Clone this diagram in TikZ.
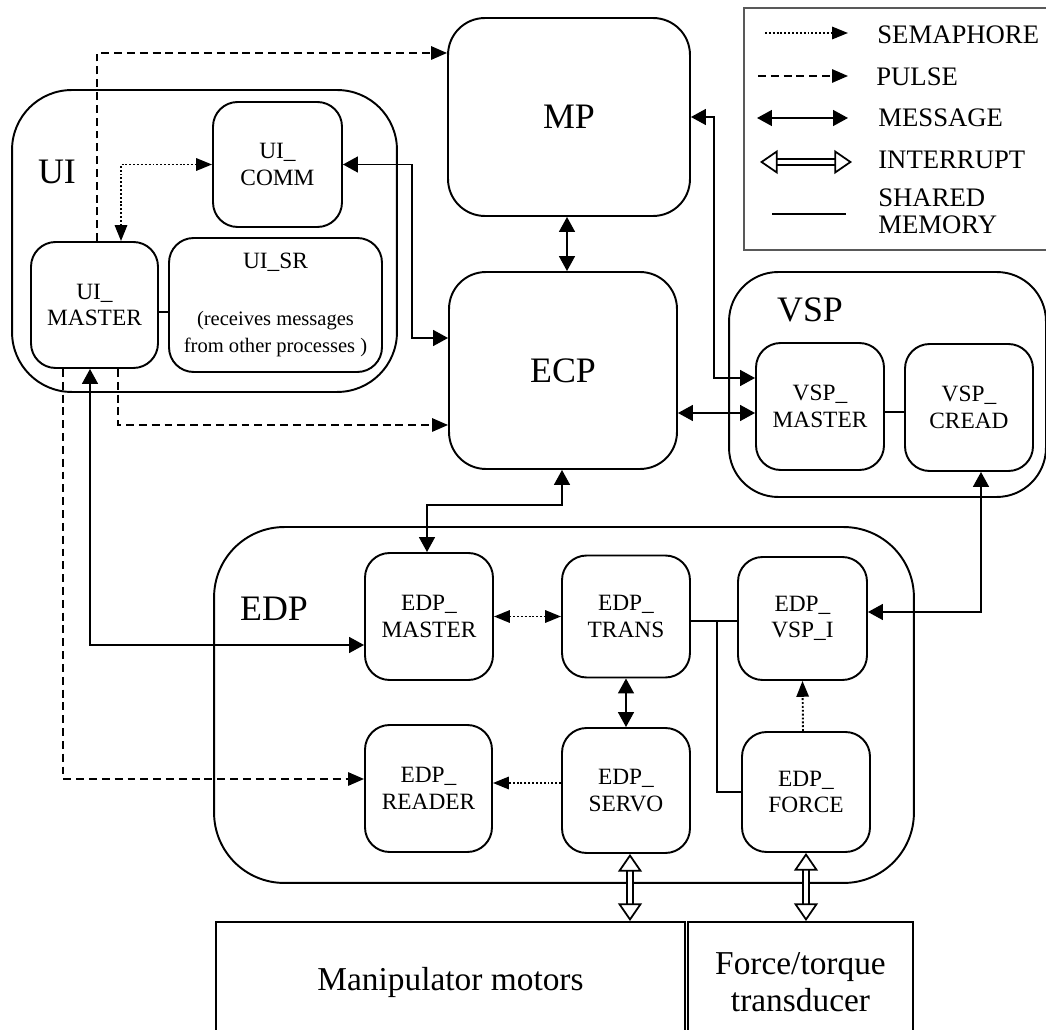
\documentclass[tikz,border=0pt]{standalone}
\usepackage{fontspec}
\setmainfont{Liberation Serif}
\usetikzlibrary{positioning,calc,arrows.meta}

\newcommand\notefont{\fontsize{11.7}{13}\selectfont}

\tikzset{
  proc/.style={draw, line width=1.1pt, rounded corners=14pt, inner sep=0pt, align=center,
    font=\fontsize{13.3}{15.2}\selectfont},
  grp/.style={draw, line width=1.1pt, inner sep=0pt},
  hw/.style={draw, line width=1.1pt, inner sep=0pt, align=center, font=\fontsize{19}{21}\selectfont},
  big/.style={font=\fontsize{20.4}{24}\selectfont},
  legtext/.style={anchor=west, align=left, inner sep=0pt, font=\fontsize{15.2}{15.4}\selectfont},
  msg/.style={line width=1.1pt, {Triangle[length=8.5pt,width=9pt]}-{Triangle[length=8.5pt,width=9pt]}},
  pulse/.style={line width=1.1pt, dash pattern=on 4.5pt off 2.8pt, -{Triangle[length=9pt,width=7.5pt]}},
  sem/.style={line width=1.1pt, dash pattern=on 1.1pt off 1.1pt, -{Triangle[length=9pt,width=7pt]}},
  semboth/.style={sem, {Triangle[length=9pt,width=7pt]}-{Triangle[length=9pt,width=7pt]}},
  shared/.style={line width=1.1pt},
  intr/.style={line width=1pt, double distance=2pt,
    {Triangle[open,length=10pt,width=13.5pt]}-{Triangle[open,length=10pt,width=13.5pt]}}
}

\begin{document}
\begin{tikzpicture}[x=0.02cm,y=-0.02cm]
  \useasboundingbox (0,0) rectangle (1046,1030);

  % process groups
  \node[grp, rounded corners=34pt, minimum width=7.7cm, minimum height=6.04cm] (ui) at (204.5,241) {};
  \node[grp, rounded corners=28pt, minimum width=6.34cm, minimum height=4.5cm] (vsp) at (887.5,384.5) {};
  \node[grp, rounded corners=40pt, minimum width=14cm, minimum height=7.12cm] (edp) at (564,705) {};
  \node[big] (uilbl) at (57,172) {UI};
  \node[big] (vsplbl) at (810,310) {VSP};
  \node[big] (edplbl) at (274,609) {EDP};

  % processes
  \node[proc, rounded corners=21pt, big, minimum width=4.84cm, minimum height=3.96cm] (mp) at (569,117) {MP};
  \node[proc, rounded corners=21pt, big, minimum width=4.56cm, minimum height=3.94cm] (ecp) at (563,370.5) {ECP};
  \node[proc, minimum width=2.58cm, minimum height=2.5cm] (uicomm) at (277.5,164.5) {UI\_\\COMM};
  \node[proc, minimum width=2.54cm, minimum height=2.52cm] (uimaster) at (94.5,305) {UI\_\\MASTER};
  \node[proc, minimum width=4.26cm, minimum height=2.68cm] (uisr) at (275.5,305)
    {UI\_SR\\[6mm]\notefont (receives messages\\\notefont from other processes )};
  \node[proc, minimum width=2.56cm, minimum height=2.54cm] (vspmaster) at (820,406.5) {VSP\_\\MASTER};
  \node[proc, minimum width=2.56cm, minimum height=2.54cm] (vspcread) at (969,407.5) {VSP\_\\CREAD};
  \node[proc, minimum width=2.56cm, minimum height=2.54cm] (edpmaster) at (429,616.5) {EDP\_\\MASTER};
  \node[proc, minimum width=2.56cm, minimum height=2.44cm] (edptrans) at (626,616.5) {EDP\_\\TRANS};
  \node[proc, minimum width=2.58cm, minimum height=2.46cm] (edpvspi) at (802.5,618.5) {EDP\_\\VSP\_I};
  \node[proc, minimum width=2.54cm, minimum height=2.54cm] (edpreader) at (428.5,788.5) {EDP\_\\READER};
  \node[proc, minimum width=2.56cm, minimum height=2.5cm] (edpservo) at (626,790.5) {EDP\_\\SERVO};
  \node[proc, minimum width=2.56cm, minimum height=2.4cm] (edpforce) at (806,792) {EDP\_\\FORCE};

  % hardware
  \node[hw, minimum width=9.38cm, minimum height=2.4cm] (motors) at (450.5,982) {Manipulator motors};
  \node[hw, minimum width=4.5cm, minimum height=2.4cm] (ftsensor) at (800.5,982) {Force/torque\\transducer};

  % connections
  \draw[pulse] ($(uimaster.north)+(2.5,0)$) |- ($(mp.west)+(0,-64)$);
  \draw[semboth] ($(uimaster.north)+(26.5,0)$) |- (uicomm.west);
  \draw[msg] (uicomm.east) -| ($(ecp.west)+(-36,-32.5)$) -- ($(ecp.west)+(0,-32.5)$);
  \draw[pulse] ($(uimaster.south)+(23.5,0)$) |- ($(ecp.west)+(0,54.5)$);
  \draw[msg] ($(uimaster.south)+(-4.5,0)$) |- ($(edpmaster.west)+(0,28.5)$);
  \draw[pulse] ($(uimaster.south)+(-31.5,0)$) |- ($(edpreader.west)+(0,-9.5)$);
  \draw[shared] ($(uimaster.east)+(0,7)$) -- ($(uisr.west)+(0,7)$);
  \draw[msg] ($(mp.south)+(-2,0)$) -- ($(ecp.north)+(4,0)$);
  \draw[msg] (mp.east) -| ($(vspmaster.west)+(-41,-28.5)$) -- ($(vspmaster.west)+(0,-28.5)$);
  \draw[msg] ($(ecp.east)+(0,42.5)$) -- ($(vspmaster.west)+(0,6.5)$);
  \draw[shared] ($(vspmaster.east)+(0,5.5)$) -- ($(vspcread.west)+(0,4.5)$);
  \draw[msg] ($(ecp.south)+(-1,0)$) |- ($(edpmaster.north)+(-2,-47)$) -- ($(edpmaster.north)+(-2,0)$);
  \draw[semboth] (edpmaster.east) -- (edptrans.west);
  \draw[shared] ($(edptrans.east)+(0,4.5)$) -- ($(edpvspi.west)+(0,2.5)$);
  \draw[shared] ($(edptrans.east)+(26,4.5)$) |- (edpforce.west);
  \draw[msg] (edptrans.south) -- (edpservo.north);
  \draw[sem] ($(edpservo.west)+(0,-7.5)$) -- ($(edpreader.east)+(0,-5.5)$);
  \draw[sem] ($(edpforce.north)+(-3,0)$) -- (edpvspi.south);
  \draw[msg] ($(edpvspi.east)+(0,-6.5)$) -| ($(vspcread.south)+(12,0)$);
  \draw[intr] ($(edpservo.south)+(4,0)$) -- ($(edpservo.south |- motors.north)+(4,0)$);
  \draw[intr] (edpforce.south) -- (edpforce.south |- ftsensor.north);

  % legend
  \draw[line width=0.6pt, black!65] (744,8) rectangle (1052,250);
  \node[legtext] (lsem) at (877,35) {SEMAPHORE};
  \node[legtext] (lpulse) at (876,77) {PULSE};
  \node[legtext] (lmsg) at (878,118) {MESSAGE};
  \node[legtext] (lintr) at (878,160) {INTERRUPT};
  \node[legtext] (lshared) at (878,211.5) {SHARED\\MEMORY};
  \draw[sem] (765,33) -- (848,33);
  \draw[pulse] (758,76) -- (848,76);
  \draw[msg] (757,118) -- (848,118);
  \draw[intr] (760,162) -- (852,162);
  \draw[shared] (772,214) -- (846,214);
\end{tikzpicture}
\end{document}
